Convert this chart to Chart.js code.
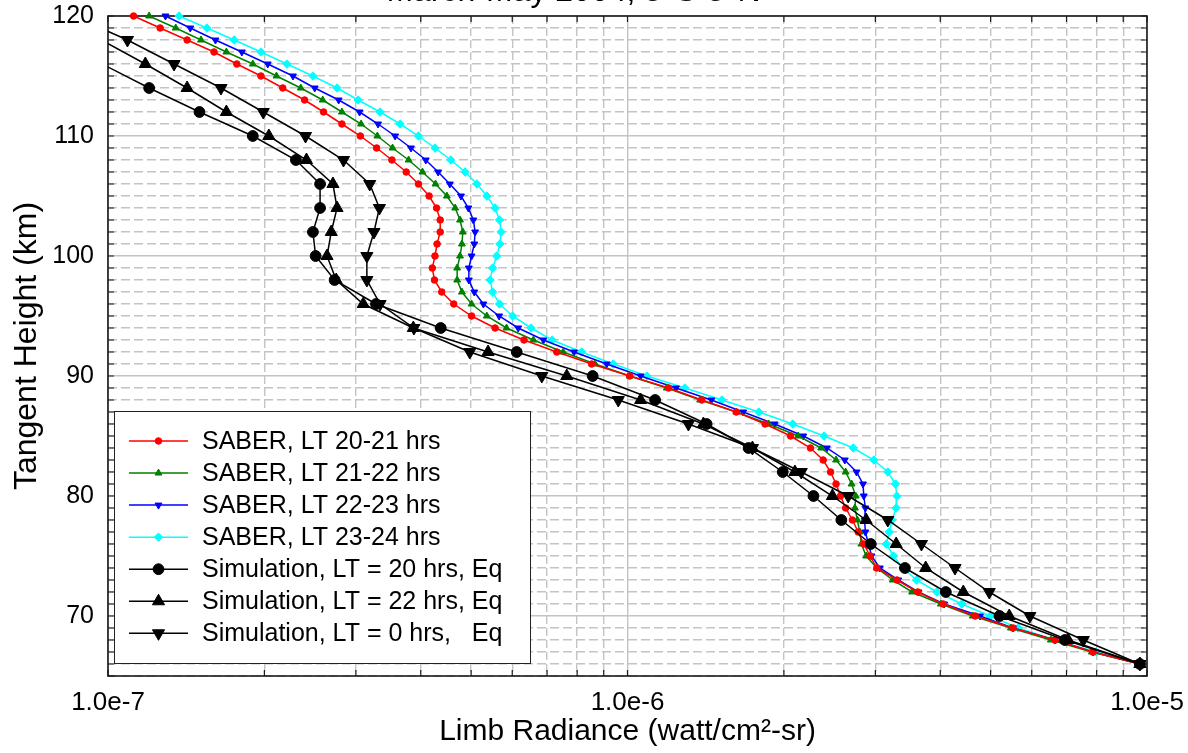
<!DOCTYPE html>
<html>
<head>
<meta charset="utf-8">
<script src="https://cdn.jsdelivr.net/npm/chart.js"></script>
<style>
  html, body { margin: 0; padding: 0; background: #ffffff; }
  #wrap { width: 1188px; height: 753px; position: relative; }
</style>
</head>
<body>
<div id="wrap"><canvas id="chart"></canvas></div>
<script>
// ---------------- data ----------------
const TITLE = 'March-May 2004, 5°S-5°N';
const X_TITLE = 'Limb Radiance (watt/cm²-sr)';
const Y_TITLE = 'Tangent Height (km)';
const X_MIN = 1e-7, X_MAX = 1e-5;
const Y_MIN = 65, Y_MAX = 120;

const SABER_HEIGHTS = [120,119,118,117,116,115,114,113,112,111,
                       110,109,108,107,106,105,104,103,102,101,
                       100,99,98,97,96,95,94,93,92,91,
                       90,89,88,87,86,85,84,83,82,81,
                       80,79,78,77,76,75,74,73,72,71,
                       70,69,68,67,66];
const SIM_HEIGHTS = [120,118,116,114,112,110,108,106,104,102,
                     100,98,96,94,92,90,88,86,84,82,
                     80,78,76,74,72,70,68,66];

const SABER_20_21 = [1.12e-7,1.26e-7,1.42e-7,1.60e-7,1.77e-7,1.97e-7,2.17e-7,2.39e-7,2.60e-7,2.82e-7,
                     3.06e-7,3.29e-7,3.52e-7,3.75e-7,3.96e-7,4.15e-7,4.29e-7,4.36e-7,4.36e-7,4.30e-7,
                     4.26e-7,4.21e-7,4.25e-7,4.39e-7,4.63e-7,5.01e-7,5.56e-7,6.32e-7,7.31e-7,8.53e-7,
                     1.01e-6,1.20e-6,1.39e-6,1.62e-6,1.84e-6,2.06e-6,2.25e-6,2.38e-6,2.46e-6,2.52e-6,
                     2.57e-6,2.63e-6,2.71e-6,2.78e-6,2.85e-6,2.93e-6,3.02e-6,3.30e-6,3.62e-6,4.05e-6,
                     4.67e-6,5.52e-6,6.65e-6,7.87e-6,9.69e-6];
const SABER_21_22 = [1.20e-7,1.35e-7,1.51e-7,1.69e-7,1.90e-7,2.11e-7,2.35e-7,2.59e-7,2.82e-7,3.07e-7,
                     3.30e-7,3.53e-7,3.79e-7,4.03e-7,4.27e-7,4.49e-7,4.66e-7,4.76e-7,4.82e-7,4.80e-7,
                     4.76e-7,4.70e-7,4.70e-7,4.80e-7,5.01e-7,5.36e-7,5.85e-7,6.59e-7,7.52e-7,8.66e-7,
                     1.01e-6,1.19e-6,1.38e-6,1.62e-6,1.87e-6,2.13e-6,2.36e-6,2.52e-6,2.63e-6,2.70e-6,
                     2.75e-6,2.74e-6,2.77e-6,2.80e-6,2.82e-6,2.88e-6,3.02e-6,3.24e-6,3.53e-6,4.01e-6,
                     4.62e-6,5.47e-6,6.53e-6,7.83e-6,9.69e-6];
const SABER_22_23 = [1.29e-7,1.44e-7,1.61e-7,1.81e-7,2.03e-7,2.27e-7,2.50e-7,2.78e-7,3.05e-7,3.31e-7,
                     3.57e-7,3.83e-7,4.09e-7,4.32e-7,4.55e-7,4.78e-7,4.94e-7,5.05e-7,5.09e-7,5.07e-7,
                     5.01e-7,4.95e-7,4.95e-7,5.07e-7,5.28e-7,5.66e-7,6.16e-7,6.89e-7,7.89e-7,9.12e-7,
                     1.06e-6,1.24e-6,1.45e-6,1.67e-6,1.92e-6,2.18e-6,2.42e-6,2.62e-6,2.76e-6,2.84e-6,
                     2.85e-6,2.87e-6,2.86e-6,2.87e-6,2.91e-6,2.95e-6,3.06e-6,3.32e-6,3.63e-6,4.07e-6,
                     4.77e-6,5.52e-6,6.65e-6,7.87e-6,9.69e-6];
const SABER_23_24 = [1.37e-7,1.55e-7,1.75e-7,1.97e-7,2.21e-7,2.48e-7,2.76e-7,3.03e-7,3.34e-7,3.65e-7,
                     3.96e-7,4.26e-7,4.57e-7,4.87e-7,5.13e-7,5.36e-7,5.56e-7,5.67e-7,5.71e-7,5.68e-7,
                     5.60e-7,5.50e-7,5.44e-7,5.50e-7,5.67e-7,6.01e-7,6.52e-7,7.16e-7,8.16e-7,9.39e-7,
                     1.09e-6,1.29e-6,1.52e-6,1.79e-6,2.08e-6,2.39e-6,2.72e-6,2.98e-6,3.17e-6,3.28e-6,
                     3.30e-6,3.29e-6,3.23e-6,3.19e-6,3.15e-6,3.25e-6,3.39e-6,3.60e-6,3.94e-6,4.40e-6,
                     4.99e-6,5.65e-6,6.65e-6,7.98e-6,9.69e-6];

const SIM_LT20 = [6.48e-8,7.91e-8,9.74e-8,1.20e-7,1.50e-7,1.90e-7,2.30e-7,2.56e-7,2.56e-7,2.48e-7,
                  2.51e-7,2.73e-7,3.28e-7,4.37e-7,6.12e-7,8.57e-7,1.13e-6,1.42e-6,1.71e-6,1.99e-6,
                  2.28e-6,2.58e-6,2.94e-6,3.42e-6,4.10e-6,5.20e-6,6.95e-6,9.69e-6];
const SIM_LT22 = [8.08e-8,9.71e-8,1.18e-7,1.42e-7,1.69e-7,2.04e-7,2.41e-7,2.71e-7,2.76e-7,2.69e-7,
                  2.64e-7,2.75e-7,3.10e-7,3.87e-7,5.39e-7,7.64e-7,1.06e-6,1.40e-6,1.74e-6,2.10e-6,
                  2.48e-6,2.88e-6,3.29e-6,3.75e-6,4.43e-6,5.43e-6,7.05e-6,9.69e-6];
const SIM_LT0  = [8.56e-8,1.09e-7,1.34e-7,1.65e-7,1.99e-7,2.40e-7,2.84e-7,3.19e-7,3.33e-7,3.25e-7,
                  3.15e-7,3.15e-7,3.34e-7,3.88e-7,4.97e-7,6.84e-7,9.60e-7,1.31e-6,1.74e-6,2.16e-6,
                  2.66e-6,3.17e-6,3.68e-6,4.27e-6,4.97e-6,5.95e-6,7.54e-6,9.69e-6];

const LABELS = ['SABER, LT 20-21 hrs','SABER, LT 21-22 hrs','SABER, LT 22-23 hrs','SABER, LT 23-24 hrs',
                'Simulation, LT = 20 hrs, Eq','Simulation, LT = 22 hrs, Eq','Simulation, LT = 0 hrs,   Eq'];

// ---------------- styling ----------------
const FONT = '"Liberation Sans", Arial, Helvetica, sans-serif';
const GRID = '#c4c4c4';
const AXIS = '#1a1a1a';

function isDecade(v) {
  const l = Math.log10(v);
  return Math.abs(l - Math.round(l)) < 1e-6;
}

function series(label, xs, hs, color, style, radius, rotation, isSim) {
  return {
    label: label,
    data: hs.map((h, i) => ({ x: xs[i], y: h })),
    showLine: true,
    borderColor: color,
    backgroundColor: color,
    borderWidth: 1.5,
    pointStyle: style,
    pointRotation: rotation,
    pointRadius: (c) => (c.raw && c.raw.x < X_MIN) ? 0 : radius,
    pointBorderWidth: 1,
    pointBorderColor: color,
    pointBackgroundColor: color,
    tension: 0,
    order: isSim ? 0 : 1,
    clip: isSim ? { left: 0, top: 12, right: 12, bottom: 12 } : false
  };
}

const datasets = [
  series(LABELS[0], SABER_20_21, SABER_HEIGHTS, '#ff0000', 'circle', 3.3, 0, false),
  series(LABELS[1], SABER_21_22, SABER_HEIGHTS, '#008000', 'triangle', 4, 0, false),
  series(LABELS[2], SABER_22_23, SABER_HEIGHTS, '#0000ff', 'triangle', 4, 180, false),
  series(LABELS[3], SABER_23_24, SABER_HEIGHTS, '#00ffff', 'rectRot', 4.2, 0, false),
  series(LABELS[4], SIM_LT20, SIM_HEIGHTS, '#000000', 'circle', 5.4, 0, true),
  series(LABELS[5], SIM_LT22, SIM_HEIGHTS, '#000000', 'triangle', 7, 0, true),
  series(LABELS[6], SIM_LT0, SIM_HEIGHTS, '#000000', 'triangle', 7, 180, true)
];

function drawMarker(ctx, style, r, x, y, rotationDeg) {
  const rot = rotationDeg * Math.PI / 180;
  ctx.beginPath();
  if (style === 'circle') {
    ctx.arc(x, y, r, 0, Math.PI * 2);
  } else if (style === 'triangle') {
    let a = rot;
    ctx.moveTo(x + Math.sin(a) * r, y - Math.cos(a) * r);
    a += 2 * Math.PI / 3;
    ctx.lineTo(x + Math.sin(a) * r, y - Math.cos(a) * r);
    a += 2 * Math.PI / 3;
    ctx.lineTo(x + Math.sin(a) * r, y - Math.cos(a) * r);
    ctx.closePath();
  } else if (style === 'rectRot') {
    ctx.moveTo(x - r, y); ctx.lineTo(x, y - r); ctx.lineTo(x + r, y); ctx.lineTo(x, y + r);
    ctx.closePath();
  }
  ctx.fill();
  ctx.stroke();
}

const framePlugin = {
  id: 'frameTicks',
  beforeDatasetsDraw(chart) {
    const { ctx, chartArea: a, scales } = chart;
    const xs = scales.x, ys = scales.y;
    ctx.save();
    ctx.strokeStyle = AXIS;
    ctx.lineWidth = 1.2;
    ctx.beginPath();
    xs.ticks.forEach(t => {
      const px = xs.getPixelForValue(t.value);
      ctx.moveTo(px, a.bottom); ctx.lineTo(px, a.bottom - 6);
      ctx.moveTo(px, a.top); ctx.lineTo(px, a.top + 6);
    });
    ys.ticks.forEach(t => {
      const py = ys.getPixelForValue(t.value);
      ctx.moveTo(a.left, py); ctx.lineTo(a.left + 6, py);
      ctx.moveTo(a.right, py); ctx.lineTo(a.right - 6, py);
    });
    ctx.stroke();
    ctx.lineWidth = 1.6;
    ctx.strokeRect(a.left, a.top, a.right - a.left, a.bottom - a.top);
    ctx.restore();
  }
};

const legendPlugin = {
  id: 'boxLegend',
  afterDatasetsDraw(chart) {
    const { ctx, chartArea: a } = chart;
    const bw = 416, bh = 252;
    const bx = a.left + 6, by = a.bottom - 13 - bh;
    ctx.save();
    ctx.fillStyle = '#ffffff';
    ctx.fillRect(bx, by, bw, bh);
    ctx.strokeStyle = '#222222';
    ctx.lineWidth = 1;
    ctx.strokeRect(bx + 0.5, by + 0.5, bw, bh);
    ctx.font = '25px ' + FONT;
    ctx.textBaseline = 'middle';
    ctx.textAlign = 'left';
    chart.data.datasets.forEach((d, i) => {
      const cy = by + 30 + i * 32.05;
      ctx.strokeStyle = d.borderColor;
      ctx.fillStyle = d.backgroundColor;
      ctx.lineWidth = 1.5;
      ctx.beginPath();
      ctx.moveTo(bx + 15, cy); ctx.lineTo(bx + 74, cy);
      ctx.stroke();
      const r = typeof d.pointRadius === 'function' ? d.pointRadius({ raw: { x: X_MAX } }) : d.pointRadius;
      ctx.lineWidth = 1;
      drawMarker(ctx, d.pointStyle, r, bx + 44.5, cy, d.pointRotation || 0);
      ctx.fillStyle = '#000000';
      ctx.fillText(d.label, bx + 88, cy + 1);
    });
    ctx.restore();
  }
};

new Chart(document.getElementById('chart'), {
  type: 'scatter',
  data: { datasets: datasets },
  options: {
    responsive: true,
    maintainAspectRatio: false,
    animation: false,
    events: [],
    layout: { padding: { left: 0, right: 41, top: 0, bottom: 0 } },
    plugins: {
      legend: { display: false },
      tooltip: { enabled: false },
      title: {
        display: true,
        text: TITLE,
        color: '#000000',
        font: { family: FONT, size: 32, weight: 'normal', lineHeight: 1.2 },
        padding: { top: -26.7, bottom: 4.3 }
      }
    },
    scales: {
      x: {
        type: 'logarithmic',
        min: X_MIN,
        max: X_MAX,
        afterBuildTicks(scale) {
          scale.ticks = scale.ticks.filter(t => {
            const m = t.value / Math.pow(10, Math.floor(Math.log10(t.value) + 1e-9));
            return Math.abs(m - Math.round(m)) < 1e-6;
          });
        },
        afterFit(scale) {
          scale.height = 77;
          scale.paddingLeft = 0; scale.paddingRight = 0;
          scale.paddingTop = 0; scale.paddingBottom = 0;
        },
        grid: { color: GRID, lineWidth: 1.4, drawTicks: false },
        border: { display: false, dash: (c) => (c.tick && isDecade(c.tick.value)) ? [] : [8, 4] },
        ticks: {
          autoSkip: false,
          maxRotation: 0,
          padding: 11,
          color: '#000000',
          font: { family: FONT, size: 26 },
          callback: (v) => isDecade(v) ? Number(v).toExponential(1) : ''
        },
        title: {
          display: true,
          text: X_TITLE,
          color: '#000000',
          font: { family: FONT, size: 30, lineHeight: 1.2 },
          padding: { top: 0, bottom: 3 }
        }
      },
      y: {
        type: 'linear',
        min: Y_MIN,
        max: Y_MAX,
        afterFit(scale) {
          scale.width = 108;
          scale.paddingLeft = 0; scale.paddingRight = 0;
          scale.paddingTop = 0; scale.paddingBottom = 0;
        },
        grid: { color: GRID, lineWidth: 1.4, drawTicks: false },
        border: { display: false, dash: (c) => (c.tick && c.tick.value % 10 === 0) ? [] : [9, 4] },
        ticks: {
          stepSize: 1,
          maxTicksLimit: 200,
          autoSkip: false,
          padding: 14,
          color: '#000000',
          font: { family: FONT, size: 25 },
          callback: (v) => (v % 10 === 0 ? String(v) : '')
        },
        title: {
          display: true,
          text: Y_TITLE,
          color: '#000000',
          font: { family: FONT, size: 32, lineHeight: 1.2 },
          padding: { top: 8, bottom: 0 }
        }
      }
    }
  },
  plugins: [framePlugin, legendPlugin]
});
</script>
</body>
</html>
